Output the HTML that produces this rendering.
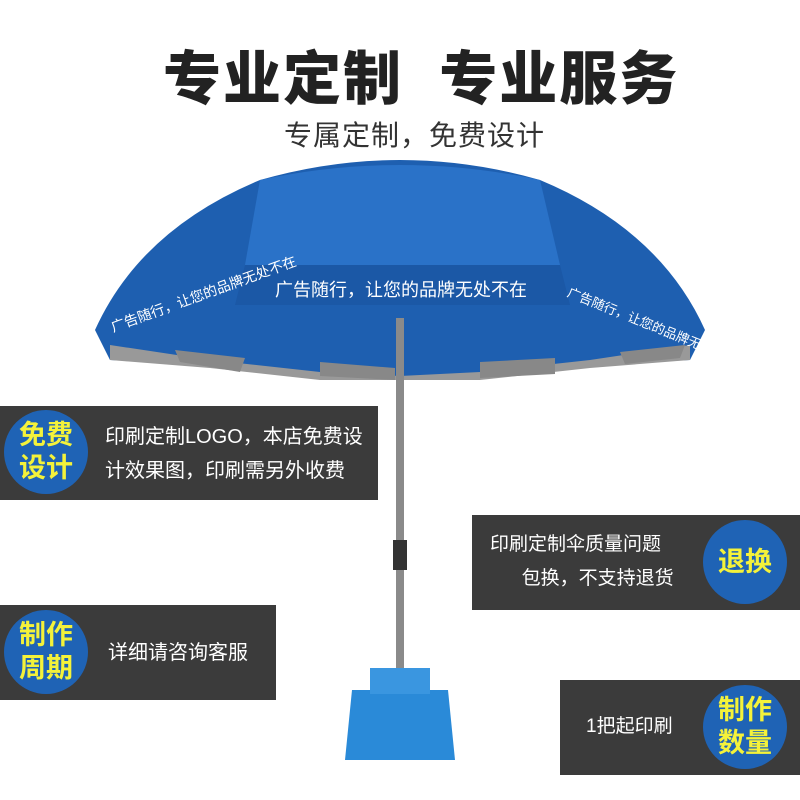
<!DOCTYPE html>
<html><head><meta charset="utf-8"><style>
body{margin:0;width:800px;height:800px;background:#fff;position:relative;overflow:hidden;font-family:"Liberation Sans","Noto Sans CJK SC",sans-serif}
.t{position:absolute;white-space:nowrap}
.box{position:absolute;background:#3b3b3b}
.c{position:absolute;width:84px;height:84px;border-radius:50%;background:#1f63b5;color:#f4f23a;font-weight:bold;font-size:27px;line-height:33px;text-align:center;display:flex;align-items:center;justify-content:center}
.w{color:#fff;font-size:20px;line-height:34px}
</style></head><body>
<div class="t" style="left:163px;top:32px;font-size:58px;font-weight:900;letter-spacing:2px;color:#222">专业定制&nbsp;&nbsp;专业服务</div>
<div class="t" style="left:284px;top:114px;font-size:28px;color:#333;letter-spacing:1px">专属定制，免费设计</div>
<svg width="800" height="800" style="position:absolute;left:0;top:0">
<path d="M95 330 Q140 230 260 180 Q400 140 540 180 Q660 230 705 330 L690 360 L590 365 L480 378 L400 380 L320 378 L210 365 L110 360 Z" fill="#1e5fb0"/>
<path d="M260 180 Q400 150 540 180 L560 265 L245 265 Z" fill="#2a72c8"/>
<path d="M245 265 L560 265 L570 305 L235 305 Z" fill="#1b58a6"/>
<path d="M110 345 L210 360 L320 372 L400 376 L480 372 L590 360 L690 345 L690 360 L590 368 L480 380 L320 380 L210 368 L110 360 Z" fill="#999"/>
<g fill="#888"><path d="M175 350 L245 358 L240 372 L180 362Z"/><path d="M320 362 L395 368 L395 380 L320 376Z"/><path d="M480 362 L555 358 L555 374 L480 378Z"/><path d="M620 352 L685 345 L680 358 L625 364Z"/></g>
<rect x="396" y="318" width="8" height="380" fill="#8a8a8a"/>
<rect x="393" y="540" width="14" height="30" fill="#333"/>
<path d="M352 690 L448 690 L455 760 L345 760 Z" fill="#2a8ad8"/>
<rect x="370" y="668" width="60" height="26" fill="#3a96e0"/>
</svg>
<div class="t" style="left:275px;top:276px;color:#fff;font-size:18px">广告随行，让您的品牌无处不在</div>
<div class="t" style="left:108px;top:318px;color:#fff;font-size:14px;transform:rotate(-20deg);transform-origin:left top">广告随行，让您的品牌无处不在</div>
<div class="t" style="left:572px;top:282px;color:#fff;font-size:13px;transform:rotate(22deg);transform-origin:left top">广告随行，让您的品牌无处不在</div>

<div class="box" style="left:0;top:406px;width:378px;height:94px"></div>
<div class="c" style="left:4px;top:410px">免费<br>设计</div>
<div class="t w" style="left:105px;top:420px">印刷定制LOGO，本店免费设<br>计效果图，印刷需另外收费</div>

<div class="box" style="left:472px;top:515px;width:328px;height:95px"></div>
<div class="c" style="left:703px;top:520px">退换</div>
<div class="t w" style="left:490px;top:528px;font-size:19px">印刷定制伞质量问题<br>&nbsp;&nbsp;&nbsp;&nbsp;&nbsp;&nbsp;包换，不支持退货</div>

<div class="box" style="left:0;top:605px;width:276px;height:95px"></div>
<div class="c" style="left:4px;top:610px">制作<br>周期</div>
<div class="t w" style="left:108px;top:636px">详细请咨询客服</div>

<div class="box" style="left:560px;top:680px;width:240px;height:95px"></div>
<div class="c" style="left:703px;top:685px">制作<br>数量</div>
<div class="t w" style="left:586px;top:710px;font-size:19px">1把起印刷</div>
</body></html>
